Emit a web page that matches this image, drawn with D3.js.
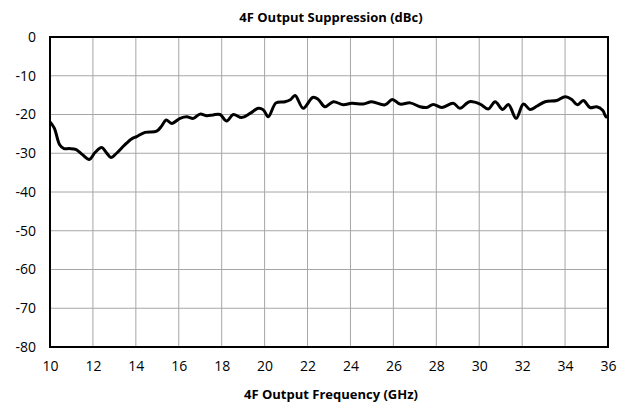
<!DOCTYPE html>
<html>
<head>
<meta charset="utf-8">
<style>
  body { margin: 0; background: white; }
  svg { display: block; font-family: "Open Sans", sans-serif; }
  .tick text { font-size: 14px; fill: #000; }
</style>
</head>
<body>
<script src="https://d3js.org/d3.v7.min.js"></script>
<script>
  // frequency (GHz) and suppression (dBc)
  var freq = [10, 10.2, 10.45, 10.65, 10.9, 11.2, 11.5, 11.83, 12.1, 12.41, 12.62, 12.84, 13.1, 13.45, 13.8, 14.04,
    14.43, 14.97, 15.2, 15.41, 15.67, 16.06, 16.37, 16.68, 16.99, 17.3, 17.6, 17.92, 18.23, 18.54, 18.93,
    19.32, 19.71, 19.94, 20.17, 20.53, 20.95, 21.2, 21.42, 21.8, 22.24, 22.5, 22.81, 23.2, 23.67, 24.06,
    24.6, 24.99, 25.61, 25.95, 26.31, 26.78, 27.24, 27.55, 27.86, 28.25, 28.79, 29.1, 29.54, 30.04, 30.42,
    30.74, 31.09, 31.36, 31.72, 32.06, 32.37, 32.7, 33.07, 33.61, 34.0, 34.31, 34.57, 34.85, 35.16, 35.47,
    35.75, 35.91, 36];
  var dbc = [-21.9, -23.5, -27.8, -28.8, -28.8, -29.0, -30.3, -31.6, -29.8, -28.5, -29.8, -31.1, -30.0, -28.0, -26.3, -25.7,
    -24.6, -24.3, -23.0, -21.4, -22.3, -21.0, -20.6, -21.0, -19.9, -20.3, -20.1, -20.0, -21.7, -20.0, -20.8,
    -19.7, -18.4, -18.8, -20.6, -17.0, -16.7, -16.2, -15.1, -18.4, -15.6, -16.1, -18.0, -16.7, -17.5, -17.1,
    -17.3, -16.7, -17.5, -16.1, -17.3, -17.0, -18.0, -18.2, -17.4, -18.2, -17.1, -18.4, -16.7, -17.3, -18.6,
    -16.7, -18.7, -17.4, -21.0, -17.3, -18.7, -17.8, -16.7, -16.4, -15.4, -16.1, -17.5, -16.4, -18.2, -18.0,
    -18.9, -20.6, -20.5];
  var xTicks = d3.range(10, 37, 2);
  var yTicks = d3.range(0, -81, -10);

  var W = 630, H = 405;
  var m = { left: 50, right: 22, top: 37, bottom: 58 };

  var svg = d3.select("body").append("svg").attr("width", W).attr("height", H);

  var x = d3.scaleLinear().domain([10, 36]).range([m.left, W - m.right]);
  var y = d3.scaleLinear().domain([-80, 0]).range([H - m.bottom, m.top]);

  // grid
  svg.append("g").selectAll("line").data(xTicks.slice(1, -1)).join("line")
    .attr("x1", d => x(d)).attr("x2", d => x(d))
    .attr("y1", y(0)).attr("y2", y(-80))
    .attr("stroke", "#a6a6a6").attr("stroke-width", 1);
  svg.append("g").selectAll("line").data(yTicks.slice(1, -1)).join("line")
    .attr("x1", x(10)).attr("x2", x(36))
    .attr("y1", d => y(d)).attr("y2", d => y(d))
    .attr("stroke", "#a6a6a6").attr("stroke-width", 1);

  // axes (labels only), plain hyphen minus like the original
  var xa = svg.append("g").attr("transform", "translate(0," + (H - m.bottom) + ")")
    .call(d3.axisBottom(x).tickValues(xTicks).tickFormat(d => String(d)).tickSize(0).tickPadding(14));
  xa.select(".domain").remove();
  var ya = svg.append("g").attr("transform", "translate(" + m.left + ",0)")
    .call(d3.axisLeft(y).tickValues(yTicks).tickFormat(d => String(d)).tickSize(0).tickPadding(14));
  ya.select(".domain").remove();
  svg.selectAll(".tick text").style("font-family", "Open Sans");

  // frame
  svg.append("rect")
    .attr("x", x(10)).attr("y", y(0))
    .attr("width", x(36) - x(10)).attr("height", y(-80) - y(0))
    .attr("fill", "none").attr("stroke", "#000").attr("stroke-width", 2);

  // curve
  var pts = freq.map((f, i) => [f, dbc[i]]);
  var line = d3.line().x(d => x(d[0])).y(d => y(d[1])).curve(d3.curveCatmullRom.alpha(0.5));
  svg.append("path").datum(pts)
    .attr("d", line)
    .attr("fill", "none").attr("stroke", "#000").attr("stroke-width", 3)
    .attr("stroke-linejoin", "round");

  // titles
  svg.append("text").attr("x", (x(10) + x(36)) / 2 + 2).attr("y", 22)
    .attr("text-anchor", "middle").attr("font-weight", "bold").attr("font-size", 13)
    .text("4F Output Suppression (dBc)");
  svg.append("text").attr("x", (x(10) + x(36)) / 2 + 2).attr("y", 399)
    .attr("text-anchor", "middle").attr("font-weight", "bold").attr("font-size", 13)
    .text("4F Output Frequency (GHz)");
</script>
</body>
</html>
